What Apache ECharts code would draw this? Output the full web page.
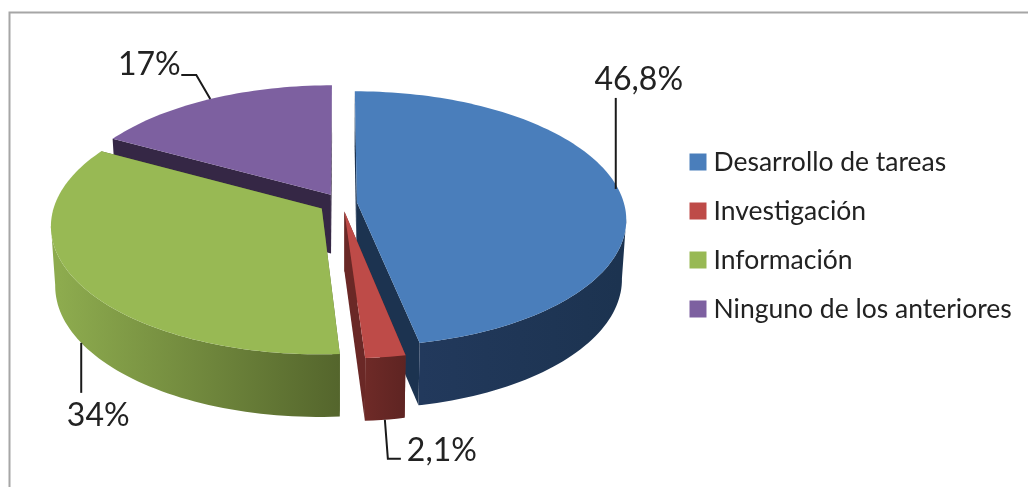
<!DOCTYPE html>
<html>
<head>
<meta charset="utf-8">
<script src="https://cdn.jsdelivr.net/npm/echarts@6/dist/echarts.min.js"></script>
<style>html,body{margin:0;padding:0;background:#fff}#c{width:1028px;height:487px}</style>
</head>
<body>
<div id="c"></div>
<script>
var categories = ['Desarrollo de tareas', 'Investigación', 'Información', 'Ninguno de los anteriores'];
var values = [46.8, 2.1, 34, 17];
var drawOrder = [3, 0, 2, 1];

var topColors = ['#4a7ebb', '#be4b48', '#98b954', '#7d60a0'];
var wallFrom = ['#22395c', '#6e2a27', '#8dab4e', '#352745'];
var wallTo = ['#1c3350', '#5e2422', '#54652c', '#352745'];
var wallSpan = [[420, 620], [366, 406], [60, 341], [115, 333]];
var radialColors = ['#1c3350', '#6a2826', '#55662d', '#352745'];

var CX = 339, CY = 203, R = 267, SQUASH = 0.47, PERSP = 0.13, EXPLODE = 18, DEPTH = 59;
var FRONT_FROM = 97.5, FRONT_TO = 262.5; // the part of the rim whose outer wall faces the viewer
// small per-slice shift on top of the explosion
var nudge = [[0, 0], [3, 0], [-2, 1], [1, -1]];
// leader bends and label centres, relative to the rim anchor of each slice
var leaders = [
  { start: [-3, -1], pts: [[-3, -92]], label: [20, -110], drop: false },
  { start: [0, 0], pts: [[3, 39], [16, 39]], label: [57, 31], drop: true },
  { start: [0, 0], pts: [[0, 50]], label: [17, 73], drop: true },
  { start: [0, 0], pts: [[-14, -24], [-29, -24]], label: [-61, -34], drop: false }
];

var total = 360 / values.reduce(function (a, b) { return a + b; }, 0);
function rad(d) { return d * Math.PI / 180; }
function spanOf(i) {
  var s = 0;
  for (var j = 0; j < i; j++) s += values[j];
  return [s * total, (s + values[i]) * total];
}
function pt(i, r, a, m, drop) {
  var v = EXPLODE * Math.cos(rad(m)) + r * Math.cos(rad(a));
  var u = EXPLODE * Math.sin(rad(m)) + r * Math.sin(rad(a));
  var s = 1 / (1 + PERSP * v / R);
  var x = CX + u * s, y = CY - SQUASH * v * s;
  if (drop) {
    x = CX + (x - CX) * 0.985;
    y += DEPTH * (1 - 0.06 * v / R);
  }
  return [x + nudge[i][0], y + nudge[i][1]];
}
function arc(i, from, to, m, drop) {
  var out = [];
  for (var a = from; a < to; a += 1.5) out.push(pt(i, R, a, m, drop));
  out.push(pt(i, R, to, m, drop));
  return out;
}
function renderSlice(i) {
  return function (params, api) {
    var span = spanOf(i), a0 = span[0], a1 = span[1], m = (a0 + a1) / 2;
    var rim = arc(i, a0, a1, m, false), bot = arc(i, a0, a1, m, true);
    var apex = pt(i, 0, 0, m, false), apexB = pt(i, 0, 0, m, true);
    var children = [
      { type: 'polygon', shape: { points: [apex, rim[0], bot[0], apexB] }, style: { fill: radialColors[i] } },
      { type: 'polygon', shape: { points: [apex, rim[rim.length - 1], bot[bot.length - 1], apexB] }, style: { fill: radialColors[i] } }
    ];
    var f0 = Math.max(a0, FRONT_FROM), f1 = Math.min(a1, FRONT_TO);
    if (f1 > f0) {
      children.push({
        type: 'polygon',
        shape: { points: arc(i, f0, f1, m, false).concat(arc(i, f0, f1, m, true).reverse()) },
        style: {
          fill: {
            type: 'linear', global: true, x: wallSpan[i][0], y: 0, x2: wallSpan[i][1], y2: 0,
            colorStops: [{ offset: 0, color: wallFrom[i] }, { offset: 1, color: wallTo[i] }]
          }
        }
      });
    }
    children.push({ type: 'polygon', shape: { points: [apex].concat(rim) }, style: { fill: topColors[i] } });
    var L = leaders[i];
    var anchor = pt(i, R, m, m, L.drop);
    var line = [[anchor[0] + L.start[0], anchor[1] + L.start[1]]].concat(L.pts.map(function (p) { return [anchor[0] + p[0], anchor[1] + p[1]]; }));
    children.push({ type: 'polyline', shape: { points: line }, style: { stroke: '#1a1a1a', lineWidth: 2, fill: null } });
    children.push({
      type: 'text',
      style: {
        x: anchor[0] + L.label[0], y: anchor[1] + L.label[1],
        text: String(api.value(0)).replace('.', ',') + '%',
        font: '32px Lato', fill: '#222', align: 'center', verticalAlign: 'middle'
      }
    });
    return { type: 'group', children: children };
  };
}

var chart = echarts.init(document.getElementById('c'), null, { renderer: 'canvas' });
chart.setOption({
  animation: false,
  backgroundColor: '#fff',
  graphic: [{
    type: 'polyline', silent: true,
    shape: { points: [[1030, 12.5], [9.5, 12.5], [9.5, 490]] },
    style: { stroke: '#a6a6a6', lineWidth: 2, fill: null }
  }],
  legend: {
    data: categories, orient: 'vertical', left: 684.5, top: 143.5,
    icon: 'rect', itemWidth: 17, itemHeight: 17, itemGap: 22, selectedMode: false,
    textStyle: { fontFamily: 'Lato', fontSize: 26.5, color: '#222', padding: [0, 0, 0, 2] }
  },
  series: drawOrder.map(function (i) {
    return {
      type: 'custom', name: categories[i], coordinateSystem: 'none', silent: true,
      itemStyle: { color: topColors[i] },
      data: [[values[i]]],
      renderItem: renderSlice(i)
    };
  })
});
</script>
</body>
</html>
